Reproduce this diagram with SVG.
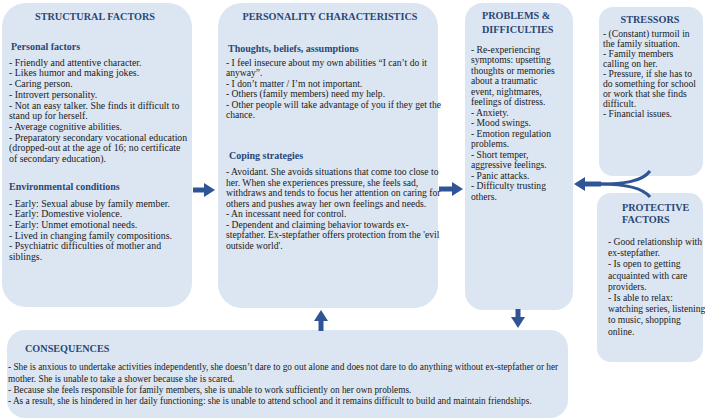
<svg xmlns="http://www.w3.org/2000/svg" width="705" height="420" viewBox="0 0 705 420">
<style>
.box{fill:#dce6f2;stroke:none}
.t{font-family:"Liberation Serif","Times New Roman",serif;font-weight:bold;font-size:10.2px;fill:#2a4676}
.h{font-family:"Liberation Serif","Times New Roman",serif;font-weight:bold;font-size:10px;fill:#2a4676}
.b{font-family:"Liberation Serif","Times New Roman",serif;font-size:9.6px;fill:#1a1a1a}
.s{font-size:9.85px}
.q{font-size:9.3px}
.c{text-anchor:middle}
.ar{fill:none;stroke:#2f5597;stroke-width:5}
.cv{fill:none;stroke:#2f5597;stroke-width:3}
</style>
<defs>
<marker id="ah" markerUnits="userSpaceOnUse" markerWidth="11" markerHeight="14" refX="0" refY="7" orient="auto">
<path d="M0,0 L11,7 L0,14 z" fill="#2f5597"/>
</marker>
</defs>
<rect width="705" height="420" fill="#ffffff"/>

<g id="structural">
<rect class="box" x="2" y="3" width="190" height="304" rx="24"/>
<text class="t c" x="95" y="20">STRUCTURAL FACTORS</text>
<text class="h" x="11" y="50">Personal factors</text>
<text class="b s" x="9" y="65.7">- Friendly and attentive character.</text>
<text class="b s" x="9" y="76.4">- Likes humor and making jokes.</text>
<text class="b s" x="9" y="87.1">- Caring person.</text>
<text class="b s" x="9" y="97.8">- Introvert personality.</text>
<text class="b s" x="9" y="108.5">- Not an easy talker. She finds it difficult to</text>
<text class="b s" x="9" y="119.2">stand up for herself.</text>
<text class="b s" x="9" y="129.9">- Average cognitive abilities.</text>
<text class="b s" x="9" y="140.6">- Preparatory secondary vocational education</text>
<text class="b s" x="9" y="151.3">(dropped-out at the age of 16; no certificate</text>
<text class="b s" x="9" y="162">of secondary education).</text>
<text class="h" x="9" y="190">Environmental conditions</text>
<text class="b s" x="9" y="206.5">- Early: Sexual abuse by family member.</text>
<text class="b s" x="9" y="217.2">- Early: Domestive violence.</text>
<text class="b s" x="9" y="227.9">- Early: Unmet emotional needs.</text>
<text class="b s" x="9" y="238.6">- Lived in changing family compositions.</text>
<text class="b s" x="9" y="249.3">- Psychiatric difficulties of mother and</text>
<text class="b s" x="9" y="260">siblings.</text>
</g>

<g id="personality">
<rect class="box" x="218" y="3" width="220" height="305" rx="24"/>
<text class="t c" x="330" y="20">PERSONALITY CHARACTERISTICS</text>
<text class="h" x="228" y="52">Thoughts, beliefs, assumptions</text>
<text class="b" x="226" y="65.7">- I feel insecure about my own abilities “I can’t do it</text>
<text class="b" x="226" y="76.2">anyway”.</text>
<text class="b" x="226" y="86.7">- I don’t matter / I’m not important.</text>
<text class="b" x="226" y="97.2">- Others (family members) need my help.</text>
<text class="b" x="226" y="107.7">- Other people will take advantage of you if they get the</text>
<text class="b" x="226" y="118.2">chance.</text>
<text class="h" x="229" y="158.5">Coping strategies</text>
<text class="b" x="226" y="175">- Avoidant. She avoids situations that come too close to</text>
<text class="b" x="226" y="185.5">her. When she experiences pressure, she feels sad,</text>
<text class="b" x="226" y="196">withdraws and tends to focus her attention on caring for</text>
<text class="b" x="226" y="206.5">others and pushes away her own feelings and needs.</text>
<text class="b" x="226" y="217">- An incessant need for control.</text>
<text class="b" x="226" y="227.5">- Dependent and claiming behavior towards ex-</text>
<text class="b" x="226" y="238">stepfather. Ex-stepfather offers protection from the 'evil</text>
<text class="b" x="226" y="248.5">outside world'.</text>
</g>

<g id="problems">
<rect class="box" x="465" y="3" width="108" height="307" rx="18"/>
<text class="t" x="482" y="19">PROBLEMS &amp;</text>
<text class="t" x="482" y="33">DIFFICULTIES</text>
<text class="b" x="471" y="52.5">- Re-experiencing</text>
<text class="b" x="471" y="63">symptoms: upsetting</text>
<text class="b" x="471" y="73.5">thoughts or memories</text>
<text class="b" x="471" y="84">about a traumatic</text>
<text class="b" x="471" y="94.5">event, nightmares,</text>
<text class="b" x="471" y="105">feelings of distress.</text>
<text class="b" x="471" y="115.5">- Anxiety.</text>
<text class="b" x="471" y="126">- Mood swings.</text>
<text class="b" x="471" y="136.5">- Emotion regulation</text>
<text class="b" x="471" y="147">problems.</text>
<text class="b" x="471" y="157.5">- Short temper,</text>
<text class="b" x="471" y="168">aggressive feelings.</text>
<text class="b" x="471" y="178.5">- Panic attacks.</text>
<text class="b" x="471" y="189">- Difficulty trusting</text>
<text class="b" x="471" y="199.5">others.</text>
</g>

<g id="stressors">
<rect class="box" x="599" y="7" width="104" height="169" rx="14"/>
<text class="t c" x="650" y="23">STRESSORS</text>
<text class="b" x="603" y="36.5">- (Constant) turmoil in</text>
<text class="b" x="603" y="46.5">the family situation.</text>
<text class="b" x="603" y="56.8">- Family members</text>
<text class="b" x="603" y="67">calling on her.</text>
<text class="b" x="603" y="77">- Pressure, if she has to</text>
<text class="b" x="603" y="87">do something for school</text>
<text class="b" x="603" y="97">or work that she finds</text>
<text class="b" x="603" y="107">difficult.</text>
<text class="b" x="603" y="117">- Financial issues.</text>
</g>

<g id="protective">
<rect class="box" x="597" y="193" width="106" height="169" rx="14"/>
<text class="t" x="622" y="211">PROTECTIVE</text>
<text class="t" x="622" y="223">FACTORS</text>
<text class="b" x="608" y="245">- Good relationship with</text>
<text class="b" x="608" y="256">ex-stepfather.</text>
<text class="b" x="608" y="267">- Is open to getting</text>
<text class="b" x="608" y="278.5">acquainted with care</text>
<text class="b" x="608" y="289.5">providers.</text>
<text class="b" x="608" y="300.5">- Is able to relax:</text>
<text class="b" x="608" y="312">watching series, listening</text>
<text class="b" x="608" y="323">to music, shopping</text>
<text class="b" x="608" y="334.5">online.</text>
</g>

<g id="consequences">
<rect class="box" x="7" y="330" width="561" height="88" rx="18"/>
<text class="t" x="25" y="352">CONSEQUENCES</text>
<text class="b q" x="8" y="370">- She is anxious to undertake activities independently, she doesn’t dare to go out alone and does not dare to do anything without ex-stepfather or her</text>
<text class="b q" x="8" y="382.3">mother. She is unable to take a shower because she is scared.</text>
<text class="b q" x="8" y="393">- Because she feels responsible for family members, she is unable to work sufficiently on her own problems.</text>
<text class="b q" x="8" y="404">- As a result, she is hindered in her daily functioning: she is unable to attend school and it remains difficult to build and maintain friendships.</text>
</g>

<g id="connectors">
<path class="ar" d="M193,190 H204" marker-end="url(#ah)"/>
<path class="ar" d="M439,189 H452" marker-end="url(#ah)"/>
<path class="ar" d="M518,309 V317" marker-end="url(#ah)"/>
<path class="ar" d="M321,331 V321" marker-end="url(#ah)"/>
<path class="cv" d="M650,171 C642,182 622,184 600,184"/>
<path class="cv" d="M650,197 C642,187 622,184 600,184"/>
<path class="ar" d="M601,184 H585" marker-end="url(#ah)"/>
</g>
</svg>
